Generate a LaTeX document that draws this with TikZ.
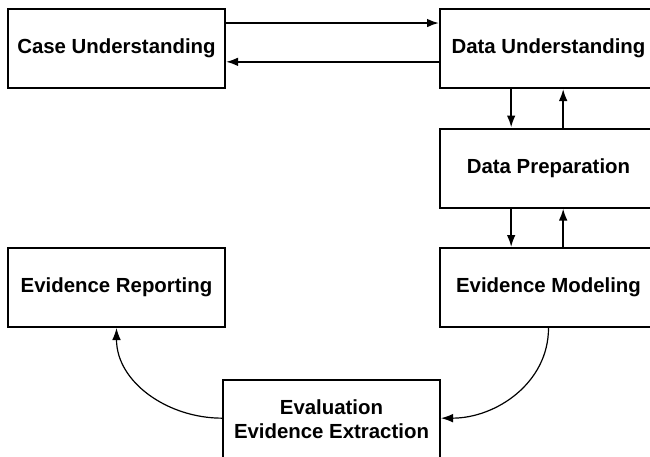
\documentclass[tikz,border=0pt]{standalone}
\usepackage{fontspec}
\setmainfont{Liberation Sans}
\usetikzlibrary{arrows.meta}

\begin{document}
\begin{tikzpicture}[x=0.75pt,y=-0.75pt,
  stage/.style={draw,line width=1.5pt,minimum width=162.75pt,minimum height=59.25pt,
    inner sep=0pt,align=center,font=\fontsize{15.3}{18}\selectfont\bfseries},
  flow/.style={-{Latex[length=9pt,width=6.5pt]},line width=1.4pt},
  curveflow/.style={-{Latex[length=9pt,width=6.5pt]},line width=0.9pt}]
  \path[use as bounding box] (0,0) rectangle (650,457);
  \node[stage] (cu) at (116.5, 48.5) {Case Understanding};
  \node[stage] (du) at (548.5, 48.5) {Data Understanding};
  \node[stage] (dp) at (548.5,168.0) {Data Preparation};
  \node[stage] (em) at (548.5,287.5) {Evidence Modeling};
  \node[stage] (er) at (116.5,287.5) {Evidence Reporting};
  \node[stage] (ee) at (331.5,419.5) {Evaluation\\Evidence Extraction};
  % top pair
  \draw[flow] ([yshift=19.1pt]cu.east) -- ([yshift=19.1pt]du.west);
  \draw[flow] ([yshift=-10pt]du.west) -- ([yshift=-10pt]cu.east);
  % right column
  \draw[flow] ([xshift=-28pt]du.south) -- ([xshift=-28pt]dp.north);
  \draw[flow] ([xshift=11pt]dp.north) -- ([xshift=11pt]du.south);
  \draw[flow] ([xshift=-28pt]dp.south) -- ([xshift=-28pt]em.north);
  \draw[flow] ([xshift=11pt]em.north) -- ([xshift=11pt]dp.south);
  % curved returns
  \draw[curveflow] (em.south) to[out=-90,in=0] ([yshift=1pt]ee.east);
  \draw[curveflow] ([yshift=1pt]ee.west) to[out=180,in=-90] (er.south);
\end{tikzpicture}
\end{document}
